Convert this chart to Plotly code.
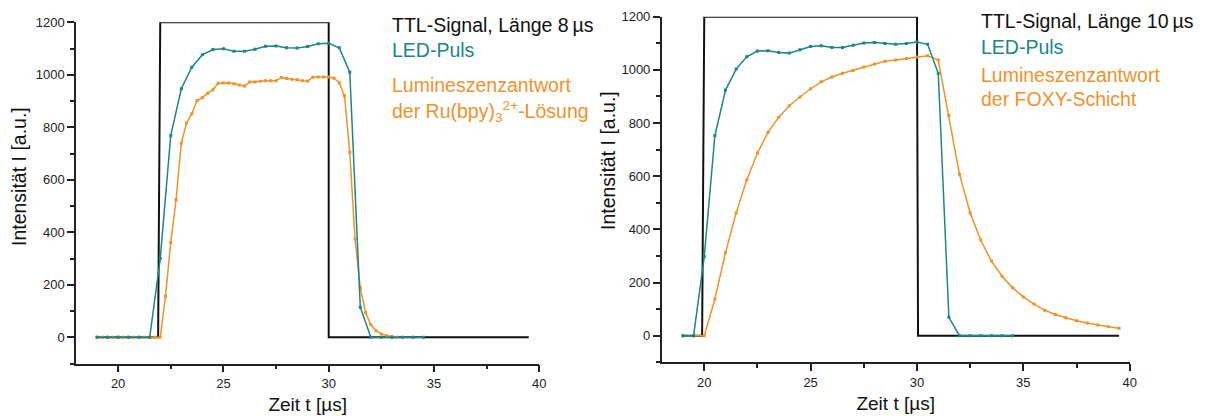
import plotly.graph_objects as go

# ---------------- data: left panel (TTL 8 µs, Ru(bpy)3 solution) ----------------
ttl_l_t = [19.0, 21.9, 22.0, 30.0, 30.0, 39.5]
ttl_l_v = [0, 0, 1200, 1200, 0, 0]

led_l_t = [19.0, 19.5, 20.0, 20.5, 21.0, 21.5, 22.0, 22.5, 23.0, 23.5, 24.0, 24.5,
           25.0, 25.5, 26.0, 26.5, 27.0, 27.5, 28.0, 28.5, 29.0, 29.5, 30.0, 30.5,
           31.0, 31.5, 32.0, 32.5, 33.0, 33.5, 34.0, 34.5]
led_l_v = [0, 0, 0, 0, 0, 0, 300, 769, 947, 1029, 1076, 1096,
           1099, 1090, 1090, 1097, 1109, 1110, 1103, 1102, 1108, 1118, 1120, 1103,
           1010, 115, 0, 0, 0, 0, 0, 0]

lum_l_t = [19.0, 19.25, 19.5, 19.75, 20.0, 20.25, 20.5, 20.75, 21.0, 21.25, 21.5, 21.75,
           22.0, 22.25, 22.5, 22.75, 23.0, 23.25, 23.5, 23.75, 24.0, 24.25, 24.5, 24.75,
           25.0, 25.25, 25.5, 25.75, 26.0, 26.25, 26.5, 26.75, 27.0, 27.25, 27.5, 27.75,
           28.0, 28.25, 28.5, 28.75, 29.0, 29.25, 29.5, 29.75, 30.0, 30.25, 30.5, 30.75,
           31.0, 31.25, 31.5, 31.75, 32.0, 32.25, 32.5, 32.75, 33.0, 33.25]
lum_l_v = [0, 0, 0, 0, 0, 0, 0, 0, 0, 0, 0, 0,
           0, 157, 361, 524, 739, 816, 852, 902, 913, 930, 943, 968,
           969, 969, 966, 961, 957, 973, 973, 975, 977, 977, 977, 990,
           986, 983, 981, 977, 976, 991, 992, 992, 992, 987, 970, 920,
           705, 375, 189, 95, 48, 25, 13, 6, 3, 0]

# ---------------- data: right panel (TTL 10 µs, FOXY layer) ----------------
ttl_r_t = [19.0, 19.9, 20.0, 30.0, 30.05, 39.5]
ttl_r_v = [0, 0, 1200, 1200, 0, 0]

led_r_t = [19.0, 19.5, 20.0, 20.5, 21.0, 21.5, 22.0, 22.5, 23.0, 23.5, 24.0, 24.5,
           25.0, 25.5, 26.0, 26.5, 27.0, 27.5, 28.0, 28.5, 29.0, 29.5, 30.0, 30.5,
           31.0, 31.5, 32.0, 32.5, 33.0, 33.5, 34.0, 34.5]
led_r_v = [0, 0, 297, 753, 924, 1003, 1049, 1071, 1072, 1065, 1063, 1076,
           1088, 1091, 1084, 1084, 1093, 1101, 1103, 1099, 1096, 1099, 1105, 1096,
           987, 69, 0, 0, 0, 0, 0, 0]

lum_r_t = [19.0, 19.5, 20.0, 20.5, 21.0, 21.5, 22.0, 22.5, 23.0, 23.5, 24.0, 24.5,
           25.0, 25.5, 26.0, 26.5, 27.0, 27.5, 28.0, 28.5, 29.0, 29.5, 30.0, 30.5,
           31.0, 31.5, 32.0, 32.5, 33.0, 33.5, 34.0, 34.5, 35.0, 35.5, 36.0, 36.5,
           37.0, 37.5, 38.0, 38.5, 39.0, 39.5]
lum_r_v = [0, 0, 0, 138, 313, 462, 587, 687, 765, 822, 865, 898,
           929, 955, 973, 987, 998, 1011, 1022, 1032, 1037, 1043, 1048, 1053,
           1037, 828, 607, 462, 359, 281, 224, 180, 146, 119, 96, 80,
           68, 56, 48, 40, 34, 28]

x_ticks = [20, 25, 30, 35, 40]
y_ticks = [0, 200, 400, 600, 800, 1000, 1200]

TEAL = "#1c8585"
ORANGE = "#f0922a"
BLACK = "#111111"
FONT = "Liberation Sans, Arial, sans-serif"

W, H = 1206, 416


def px_x(p):
    return p / W


def px_y(p):
    return 1 - p / H


fig = go.Figure()


def add_panel(xa, ya, tt, tv, lt, lv, ut, uv):
    fig.add_trace(go.Scatter(x=tt, y=tv, mode="lines", xaxis=xa, yaxis=ya,
                             line=dict(color=BLACK, width=2), showlegend=False))
    fig.add_trace(go.Scatter(x=ut, y=uv, mode="lines+markers", xaxis=xa, yaxis=ya,
                             line=dict(color=ORANGE, width=1.5),
                             marker=dict(symbol="square", size=3, color=ORANGE),
                             showlegend=False))
    fig.add_trace(go.Scatter(x=lt, y=lv, mode="lines+markers", xaxis=xa, yaxis=ya,
                             line=dict(color=TEAL, width=1.5),
                             marker=dict(symbol="square", size=3, color=TEAL),
                             showlegend=False))


add_panel("x", "y", ttl_l_t, ttl_l_v, led_l_t, led_l_v, lum_l_t, lum_l_v)
add_panel("x2", "y2", ttl_r_t, ttl_r_v, led_r_t, led_r_v, lum_r_t, lum_r_v)

axis_common = dict(
    showline=True, linecolor="#222222", linewidth=1.5,
    ticks="outside", ticklen=7, tickwidth=1.5, tickcolor="#222222",
    showgrid=False, zeroline=False,
    tickfont=dict(family=FONT, size=13, color="#222222"),
    automargin=False,
)

xaxis_common = dict(axis_common, range=[18, 40], tickvals=x_ticks,
                    minor=dict(ticks="outside", ticklen=4, tickwidth=1.5,
                               tickcolor="#222222", dtick=2.5, tick0=20),
                    title=dict(text="Zeit t [µs]", standoff=8,
                               font=dict(family=FONT, size=19, color="#111111")))
yaxis_common = dict(axis_common, range=[-100, 1200], tickvals=y_ticks,
                    minor=dict(ticks="outside", ticklen=4, tickwidth=1.5,
                               tickcolor="#222222", dtick=100, tick0=0))

fig.update_layout(
    width=W, height=H,
    margin=dict(l=0, r=0, t=0, b=0),
    paper_bgcolor="white", plot_bgcolor="white",
    xaxis=dict(xaxis_common, domain=[px_x(76), px_x(539.3)], anchor="y"),
    yaxis=dict(yaxis_common, domain=[px_y(363.6), px_y(22.3)], anchor="x"),
    xaxis2=dict(xaxis_common, domain=[px_x(661.7), px_x(1129.7)], anchor="y2"),
    yaxis2=dict(yaxis_common, domain=[px_y(362.3), px_y(16.7)], anchor="x2"),
)

# vertical intensity titles, placed beside each y axis
for cx, cy in [(19, 177), (608, 161)]:
    fig.add_annotation(x=px_x(cx), y=px_y(cy), xref="paper", yref="paper",
                       xanchor="center", yanchor="middle", showarrow=False,
                       textangle=-90, text="Intensität I [a.u.]",
                       font=dict(family=FONT, size=19.5, color="#111111"))

# text labels beside each panel
labels = [
    (390, 32, "TTL-Signal, Länge 8\u2009µs", BLACK),
    (390, 57, "LED-Puls", TEAL),
    (390, 91, "Lumineszenzantwort", ORANGE),
    (390, 118, "der Ru(bpy)<sub>3</sub><sup>2+</sup>-Lösung", ORANGE),
    (979, 28, "TTL-Signal, Länge 10\u2009µs", BLACK),
    (979, 53, "LED-Puls", TEAL),
    (979, 82, "Lumineszenzantwort", ORANGE),
    (979, 105, "der FOXY-Schicht", ORANGE),
]
for x, base, text, col in labels:
    fig.add_annotation(x=px_x(x), y=px_y(base - 6.5), xref="paper", yref="paper",
                       xanchor="left", yanchor="middle", showarrow=False,
                       text=text, font=dict(family=FONT, size=19.5, color=col))

fig.write_html("out.html")
